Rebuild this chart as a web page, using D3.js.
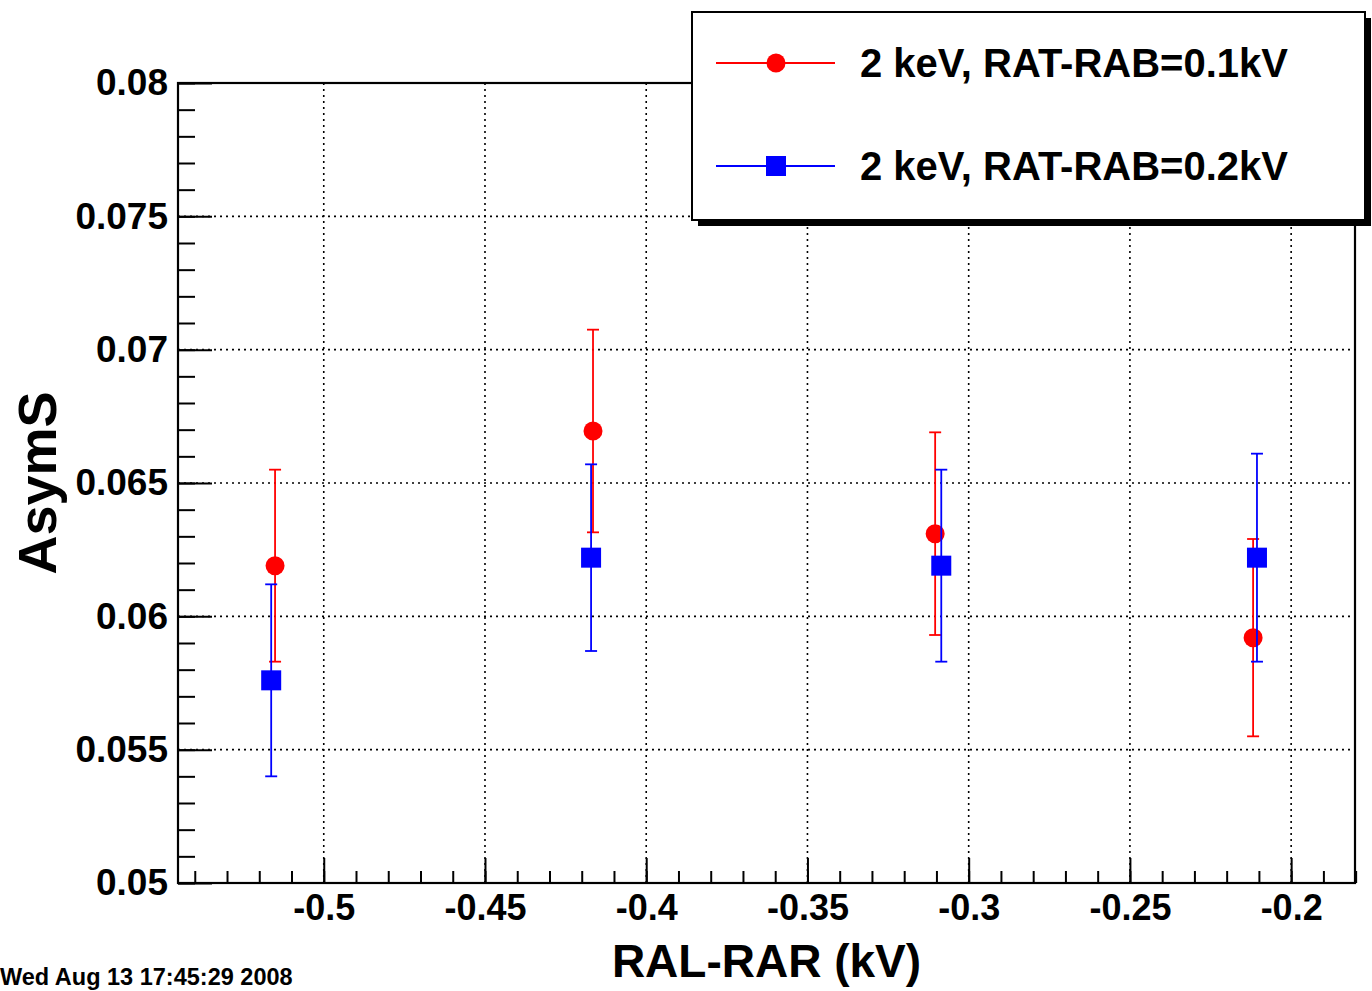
<!DOCTYPE html>
<html>
<head>
<meta charset="utf-8">
<script src="https://cdn.jsdelivr.net/npm/d3@7"></script>
<style>
  body { margin: 0; background: #fff; }
  text { font-family: "Liberation Sans", Arial, Helvetica, sans-serif; font-weight: bold; }
</style>
</head>
<body>
<div class="canvas"></div>
<script>
// series
const xRed = [-0.5151, -0.4165, -0.3104, -0.2118];
const yRed = [0.0619, 0.06695, 0.0631, 0.0592];
const eRed = [0.0036, 0.0038, 0.0038, 0.0037];

const xBlue = [-0.5163, -0.4171, -0.3085, -0.2106];
const yBlue = [0.0576, 0.0622, 0.0619, 0.0622];
const eBlue = [0.0036, 0.0035, 0.0036, 0.0039];

const xMajor = [-0.5, -0.45, -0.4, -0.35, -0.3, -0.25, -0.2];
const yMajor = [0.05, 0.055, 0.06, 0.065, 0.07, 0.075, 0.08];
const legendLabels = ['2 keV, RAT-RAB=0.1kV', '2 keV, RAT-RAB=0.2kV'];

let width = 1372, height = 991;
let padL = 178, padR = 1355, padT = 83, padB = 883;

const svg = d3.select('.canvas')
    .append('svg')
    .attr('width', width)
    .attr('height', height);

const xScale = d3.scaleLinear().domain([-0.5452, -0.1802]).range([padL, padR]);
const yScale = d3.scaleLinear().domain([0.05, 0.08]).range([padB, padT]);

const xMinor = d3.range(-54, -17).map(d => d / 100).filter(d => d >= -0.545 && d <= -0.18);
const yMinor = d3.range(50, 81).map(d => d / 1000);

// grid
svg.append('g')
    .selectAll('line')
    .data(xMajor)
    .enter().append('line')
    .attr('x1', d => xScale(d)).attr('x2', d => xScale(d))
    .attr('y1', padT).attr('y2', padB)
    .attr('stroke', '#000').attr('stroke-width', 1.6)
    .attr('stroke-dasharray', '2,4');

svg.append('g')
    .selectAll('line')
    .data(yMajor.slice(1, -1))
    .enter().append('line')
    .attr('x1', padL).attr('x2', padR)
    .attr('y1', d => yScale(d)).attr('y2', d => yScale(d))
    .attr('stroke', '#000').attr('stroke-width', 1.6)
    .attr('stroke-dasharray', '2,4');

// axes
const fmt = d => String(+d.toFixed(3));

svg.append('g')
    .attr('transform', `translate(0, ${padB})`)
    .call(d3.axisBottom(xScale).tickValues(xMinor).tickSize(-12).tickFormat(''))
    .call(g => g.select('.domain').remove())
    .call(g => g.selectAll('line').attr('stroke-width', 2));

svg.append('g')
    .attr('transform', `translate(0, ${padB})`)
    .call(d3.axisBottom(xScale).tickValues(xMajor).tickSize(-25).tickPadding(12).tickFormat(fmt))
    .call(g => g.select('.domain').remove())
    .call(g => g.selectAll('line').attr('stroke-width', 2))
    .call(g => g.selectAll('text').attr('font-size', 36).attr('y', 8).attr('dy', '0.8em').attr('fill', '#000'));

svg.append('g')
    .attr('transform', `translate(${padL}, 0)`)
    .call(d3.axisLeft(yScale).tickValues(yMinor).tickSize(-17).tickFormat(''))
    .call(g => g.select('.domain').remove())
    .call(g => g.selectAll('line').attr('stroke-width', 2));

svg.append('g')
    .attr('transform', `translate(${padL}, 0)`)
    .call(d3.axisLeft(yScale).tickValues(yMajor).tickSize(-34).tickPadding(10).tickFormat(fmt))
    .call(g => g.select('.domain').remove())
    .call(g => g.selectAll('line').attr('stroke-width', 2))
    .call(g => g.selectAll('text').attr('font-size', 37).attr('x', -10).attr('fill', '#000'));

// frame
svg.append('rect')
    .attr('x', padL).attr('y', padT)
    .attr('width', padR - padL).attr('height', padB - padT)
    .attr('fill', 'none').attr('stroke', '#000').attr('stroke-width', 2.2);

// titles
svg.append('text')
    .attr('x', (padL + padR) / 2).attr('y', 977)
    .attr('text-anchor', 'middle').attr('font-size', 46)
    .text('RAL-RAR (kV)');

svg.append('text')
    .attr('transform', `translate(56, ${(padT + padB) / 2}) rotate(-90)`)
    .attr('text-anchor', 'middle').attr('font-size', 54)
    .text('AsymS');

svg.append('text')
    .attr('x', 0).attr('y', 985)
    .attr('font-size', 23.5)
    .text('Wed Aug 13 17:45:29 2008');

// series
let drawSeries = (xs, ys, es, color, marker) => {
    const pts = xs.map((x, i) => ({ x: x, y: ys[i], e: es[i] }));
    const g = svg.append('g');
    g.selectAll('.bar')
        .data(pts).enter().append('line')
        .attr('x1', d => xScale(d.x)).attr('x2', d => xScale(d.x))
        .attr('y1', d => yScale(d.y + d.e)).attr('y2', d => yScale(d.y - d.e))
        .attr('stroke', color).attr('stroke-width', 1.8);
    ['top', 'bot'].forEach(side => {
        g.selectAll('.cap-' + side)
            .data(pts).enter().append('line')
            .attr('x1', d => xScale(d.x) - 6).attr('x2', d => xScale(d.x) + 6)
            .attr('y1', d => yScale(side == 'top' ? d.y + d.e : d.y - d.e))
            .attr('y2', d => yScale(side == 'top' ? d.y + d.e : d.y - d.e))
            .attr('stroke', color).attr('stroke-width', 1.8);
    });
    if (marker == 'circle') {
        g.selectAll('circle')
            .data(pts).enter().append('circle')
            .attr('cx', d => xScale(d.x)).attr('cy', d => yScale(d.y))
            .attr('r', 9.5).attr('fill', color);
    } else {
        g.selectAll('rect')
            .data(pts).enter().append('rect')
            .attr('x', d => xScale(d.x) - 10).attr('y', d => yScale(d.y) - 10)
            .attr('width', 20).attr('height', 20).attr('fill', color);
    }
};

drawSeries(xRed, yRed, eRed, '#ff0000', 'circle');
drawSeries(xBlue, yBlue, eBlue, '#0000ff', 'square');

// legend
const leg = svg.append('g');
leg.append('rect')
    .attr('x', 698).attr('y', 18).attr('width', 673).attr('height', 208)
    .attr('fill', '#000');
leg.append('rect')
    .attr('x', 692).attr('y', 12).attr('width', 673).attr('height', 208)
    .attr('fill', '#fff').attr('stroke', '#000').attr('stroke-width', 2);

const legY = [63, 166];
const legColors = ['#ff0000', '#0000ff'];
legendLabels.forEach((t, i) => {
    leg.append('line')
        .attr('x1', 716).attr('x2', 835)
        .attr('y1', legY[i]).attr('y2', legY[i])
        .attr('stroke', legColors[i]).attr('stroke-width', 1.8);
    if (i == 0) {
        leg.append('circle').attr('cx', 776).attr('cy', legY[i]).attr('r', 9.5).attr('fill', legColors[i]);
    } else {
        leg.append('rect').attr('x', 766).attr('y', legY[i] - 10).attr('width', 20).attr('height', 20).attr('fill', legColors[i]);
    }
    leg.append('text')
        .attr('x', 860).attr('y', legY[i] + 14)
        .attr('font-size', 40)
        .text(t);
});
</script>
</body>
</html>
